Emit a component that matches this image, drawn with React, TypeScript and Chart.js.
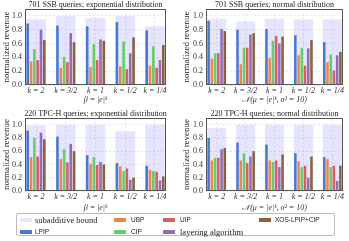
import React, { useEffect, useRef } from 'react';
import { Chart, registerables } from 'chart.js';
Chart.register(...registerables);

const categories = ['k = 2', 'k = 3/2', 'k = 1', 'k = 1/2', 'k = 1/4'];
const yTickValues = [0, 0.2, 0.4, 0.6, 0.8, 1.0];

// 701 SSB queries; exponential distribution
const ssbExpBound = [0.95, 1.0, 0.97, 1.0, 0.85];
const ssbExpLPIP = [0.89, 0.86, 0.85, 0.91, 0.79];
const ssbExpUBP = [0.34, 0.25, 0.26, 0.27, 0.28];
const ssbExpCIP = [0.52, 0.41, 0.59, 0.63, 0.56];
const ssbExpUIP = [0.36, 0.33, 0.36, 0.23, 0.25];
const ssbExpLayer = [0.80, 0.75, 0.66, 0.46, 0.36];
const ssbExpXOS = [0.65, 0.62, 0.64, 0.69, 0.58];

// 701 SSB queries; normal distribution
const ssbNormBound = [0.96, 0.92, 0.96, 0.95, 0.95];
const ssbNormLPIP = [0.93, 0.80, 0.81, 0.72, 0.62];
const ssbNormUBP = [0.38, 0.30, 0.39, 0.43, 0.33];
const ssbNormCIP = [0.46, 0.54, 0.64, 0.54, 0.44];
const ssbNormUIP = [0.46, 0.54, 0.71, 0.28, 0.21];
const ssbNormLayer = [0.81, 0.73, 0.60, 0.53, 0.43];
const ssbNormXOS = [0.78, 0.75, 0.70, 0.65, 0.48];

// 220 TPC-H queries; exponential distribution
const tpcExpBound = [0.99, 1.0, 1.0, 0.90, 1.0];
const tpcExpLPIP = [0.91, 0.82, 0.54, 0.42, 0.38];
const tpcExpUBP = [0.51, 0.48, 0.41, 0.37, 0.32];
const tpcExpCIP = [0.80, 0.63, 0.51, 0.30, 0.30];
const tpcExpUIP = [0.52, 0.43, 0.39, 0.34, 0.29];
const tpcExpLayer = [0.88, 0.71, 0.44, 0.17, 0.16];
const tpcExpXOS = [0.78, 0.60, 0.40, 0.20, 0.22];

// 220 TPC-H queries; normal distribution
const tpcNormBound = [0.95, 1.0, 1.0, 1.0, 1.0];
const tpcNormLPIP = [0.80, 0.73, 0.70, 0.57, 0.51];
const tpcNormUBP = [0.46, 0.46, 0.46, 0.45, 0.48];
const tpcNormCIP = [0.50, 0.57, 0.44, 0.36, 0.36];
const tpcNormUIP = [0.50, 0.42, 0.46, 0.38, 0.38];
const tpcNormLayer = [0.63, 0.52, 0.36, 0.20, 0.15];
const tpcNormXOS = [0.65, 0.60, 0.55, 0.52, 0.38];

const seriesLabels = ['LPIP', 'UBP', 'CIP', 'UIP', 'layering algorithm', 'XOS-LPIP+CIP'];
const seriesColors = ['#4878D0', '#EE854A', '#6ACC64', '#D65F5F', '#956CB4', '#8C613C'];
const boundColor = 'rgba(0,0,255,0.1)';

const SERIF = '"Liberation Serif", "DejaVu Serif", serif';
const SANS = '"Liberation Sans", "DejaVu Sans", sans-serif';

type PanelProps = {
  title: string;
  xTitle: string;
  bound: number[];
  series: number[][];
  left: number;
  top: number;
  width: number;
  height: number;
  axisW: number;
  xAxisH: number;
  yTitlePad: number;
  rightPad: number;
};

const framePlugin = {
  id: 'frame',
  afterDraw(c: any) {
    const { left, top, right, bottom } = c.chartArea;
    const ctx = c.ctx;
    ctx.save();
    ctx.strokeStyle = '#555';
    ctx.lineWidth = 1;
    ctx.strokeRect(Math.round(left) + 0.5, Math.round(top) + 0.5, Math.round(right - left) - 1, Math.round(bottom - top) - 1);
    const t = c.options.plugins.axesTitle?.text;
    if (t) {
      ctx.fillStyle = '#222';
      ctx.font = `8px ${SERIF}`;
      ctx.textAlign = 'center';
      ctx.textBaseline = 'middle';
      ctx.fillText(t, (left + right) / 2, 5);
    }
    ctx.restore();
  },
};

function Panel(p: PanelProps) {
  const ref = useRef<HTMLCanvasElement>(null);
  useEffect(() => {
    if (!ref.current) return;
    const mk = (vals: number[]) => vals.map((y, i) => ({ x: i, y }));
    const chart = new Chart(ref.current, {
      type: 'bar',
      data: {
        datasets: [
          {
            label: 'subadditive bound',
            data: mk(p.bound),
            backgroundColor: boundColor,
            grouped: false,
            categoryPercentage: 0.67,
            barPercentage: 1,
            order: 1,
          } as any,
          ...p.series.map((vals, k) => ({
            label: seriesLabels[k],
            data: mk(vals),
            backgroundColor: seriesColors[k],
            categoryPercentage: 0.67,
            barPercentage: 0.78,
            order: 0,
          })),
        ],
      },
      options: {
        animation: false,
        responsive: false,
        maintainAspectRatio: false,
        layout: { padding: { left: 0, right: p.rightPad, top: 9, bottom: 0 } },
        plugins: {
          legend: { display: false },
          tooltip: { enabled: false },
          title: { display: false },
          axesTitle: { text: p.title },
        } as any,
        scales: {
          x: {
            type: 'linear',
            min: -0.37,
            max: 4.37,
            offset: false,
            afterBuildTicks: (s: any) => {
              s.ticks = categories.map((_, i) => ({ value: i }));
            },
            afterFit: (s: any) => {
              s.height = p.xAxisH;
            },
            ticks: {
              callback: (v: any) => categories[Math.round(v)],
              font: { family: SERIF, size: 8, style: 'italic' },
              color: '#333',
              padding: 1.5,
              maxRotation: 0,
              autoSkip: false,
            },
            grid: { color: '#e2e2e2', drawTicks: false, lineWidth: 0.8, offset: false },
            border: { display: false, dash: [2, 2] },
            title: {
              display: true,
              text: p.xTitle,
              font: { family: SERIF, size: 8, lineHeight: 1.125, style: 'italic' },
              color: '#333',
              padding: { top: 0, bottom: 1.5 },
            },
          } as any,
          y: {
            min: 0,
            max: 1.1,
            afterBuildTicks: (s: any) => {
              s.ticks = yTickValues.map((v) => ({ value: v }));
            },
            afterFit: (s: any) => {
              s.width = p.axisW;
            },
            ticks: {
              callback: (v: any) => Number(v).toFixed(1),
              font: { family: SERIF, size: 8 },
              color: '#333',
              padding: 3,
            },
            grid: { color: '#e2e2e2', drawTicks: false, lineWidth: 0.8 },
            border: { display: false, dash: [2, 2] },
            title: {
              display: true,
              text: 'normalized revenue',
              font: { family: SERIF, size: 9, lineHeight: 1 },
              color: '#222',
              padding: { top: p.yTitlePad, bottom: 0 },
            },
          } as any,
        },
      },
      plugins: [framePlugin],
    });
    return () => chart.destroy();
  }, []);
  return (
    <div style={{ position: 'absolute', left: p.left, top: p.top, width: p.width, height: p.height }}>
      <canvas ref={ref} width={p.width} height={p.height} style={{ display: 'block' }} />
    </div>
  );
}

type LegendItem = { label: string; color: string; sx: number; tx: number; row: number; font: string; size: number };
const legendItems: LegendItem[] = [
  { label: 'subadditive bound', color: '#e6e6ff', sx: 20, tx: 35, row: 0, font: SERIF, size: 8.5 },
  { label: 'UBP', color: seriesColors[1], sx: 114, tx: 131, row: 0, font: SANS, size: 6.5 },
  { label: 'UIP', color: seriesColors[3], sx: 163, tx: 180, row: 0, font: SANS, size: 6.5 },
  { label: 'XOS-LPIP+CIP', color: seriesColors[5], sx: 259, tx: 275, row: 0, font: SANS, size: 6.5 },
  { label: 'LPIP', color: seriesColors[0], sx: 20, tx: 35, row: 1, font: SANS, size: 6.5 },
  { label: 'CIP', color: seriesColors[2], sx: 114, tx: 131, row: 1, font: SANS, size: 6.5 },
  { label: 'layering algorithm', color: seriesColors[4], sx: 163, tx: 180, row: 1, font: SERIF, size: 8.5 },
];

function Legend() {
  const boxL = 16;
  const boxT = 213;
  const rows = [219.5, 231.5];
  return (
    <div
      style={{
        position: 'absolute',
        left: boxL,
        top: boxT,
        width: 319,
        height: 23,
        border: '1px solid #bbb',
        borderRadius: 2,
        boxSizing: 'border-box',
        background: '#fff',
      }}
    >
      {legendItems.map((it) => (
        <React.Fragment key={it.label}>
          <div
            style={{
              position: 'absolute',
              left: it.sx - boxL - 1,
              top: rows[it.row] - boxT - 1 - 2,
              width: 12,
              height: 4,
              background: it.color,
            }}
          />
          <span
            style={{
              position: 'absolute',
              left: it.tx - boxL - 1,
              top: rows[it.row] - boxT - 1 - 5,
              height: 10,
              lineHeight: '10px',
              fontSize: it.size,
              fontFamily: it.font,
              color: '#222',
              whiteSpace: 'nowrap',
            }}
          >
            {it.label}
          </span>
        </React.Fragment>
      ))}
    </div>
  );
}

export default function App() {
  return (
    <div style={{ position: 'absolute', left: 0, top: 0, width: 349, height: 241, background: '#fff', overflow: 'hidden' }}>
      <Panel
        title="701 SSB queries; exponential distribution"
        xTitle="β = |e|ᵏ"
        bound={ssbExpBound}
        series={[ssbExpLPIP, ssbExpUBP, ssbExpCIP, ssbExpUIP, ssbExpLayer, ssbExpXOS]}
        left={0}
        top={0}
        width={174}
        height={106}
        axisW={25}
        xAxisH={21}
        yTitlePad={2.5}
        rightPad={8}
      />
      <Panel
        title="701 SSB queries; normal distribution"
        xTitle="𝒩(μ = |e|ᵏ, σ² = 10)"
        bound={ssbNormBound}
        series={[ssbNormLPIP, ssbNormUBP, ssbNormCIP, ssbNormUIP, ssbNormLayer, ssbNormXOS]}
        left={174}
        top={0}
        width={175}
        height={106}
        axisW={32}
        xAxisH={21}
        yTitlePad={8.5}
        rightPad={6}
      />
      <Panel
        title="220 TPC-H queries; exponential distribution"
        xTitle="β = |e|ᵏ"
        bound={tpcExpBound}
        series={[tpcExpLPIP, tpcExpUBP, tpcExpCIP, tpcExpUIP, tpcExpLayer, tpcExpXOS]}
        left={0}
        top={109}
        width={174}
        height={105}
        axisW={25}
        xAxisH={23}
        yTitlePad={2.5}
        rightPad={8}
      />
      <Panel
        title="220 TPC-H queries; normal distribution"
        xTitle="𝒩(μ = |e|ᵏ, σ² = 10)"
        bound={tpcNormBound}
        series={[tpcNormLPIP, tpcNormUBP, tpcNormCIP, tpcNormUIP, tpcNormLayer, tpcNormXOS]}
        left={174}
        top={109}
        width={175}
        height={105}
        axisW={32}
        xAxisH={23}
        yTitlePad={8.5}
        rightPad={6}
      />
      <Legend />
    </div>
  );
}
